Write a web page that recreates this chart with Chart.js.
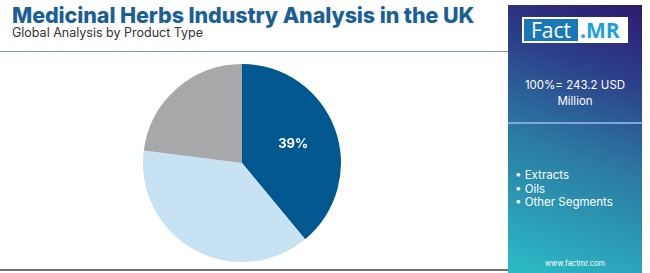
<!DOCTYPE html>
<html>
<head>
<meta charset="utf-8">
<script src="https://cdn.jsdelivr.net/npm/chart.js@4.4.1/dist/chart.umd.min.js"></script>
<style>
  html, body { margin: 0; padding: 0; background: #fff; }
  #wrap { position: relative; width: 650px; height: 273px; overflow: hidden; font-family: Inter, "Noto Sans", sans-serif; }
  #title { position: absolute; left: 12px; top: 2px; font-size: 21.5px; font-weight: 800; color: #1b5f97; letter-spacing: -0.1px; white-space: nowrap; }
  #subtitle { position: absolute; left: 12px; top: 25px; font-size: 12.5px; color: #333; white-space: nowrap; }
  #topline { position: absolute; left: 0; top: 51px; width: 508px; height: 1px; background: #7e98b3; }
  #botline { position: absolute; left: 0; top: 269px; width: 508px; height: 2px; background: #6d6f73; }
  #pie { position: absolute; left: 143px; top: 64px; }
  #panel { position: absolute; left: 508px; top: 5px; width: 134px; height: 268px;
    background: linear-gradient(20deg, #2bbcc6 0%, #2b7aa3 45%, #2c3f8a 75%, #2d1a6e 100%); }
  #logo { position: absolute; left: 14px; top: 12px; width: 106px; height: 26px; background: #fff; }
  #logo .f { position: absolute; left: 2px; top: 2px; width: 54px; height: 22px; background: #1a78b8; color: #fff; font-size: 21px; line-height: 22px; text-align: center; font-family: "Open Sans", sans-serif; }
  #logo .m { position: absolute; left: 58px; top: 2px; color: #1aa0da; font-size: 21px; font-weight: 700; line-height: 22px; font-family: "Open Sans", sans-serif; }
  #total { position: absolute; left: 0; top: 72px; width: 134px; text-align: center; color: #fff; font-size: 11.5px; line-height: 16px; }
  #divider { position: absolute; left: 0; top: 117px; width: 134px; height: 2px; background: #7fa8d6; }
  #legend { position: absolute; left: 7px; top: 164px; color: #fff; font-size: 11.5px; line-height: 13.5px; }
  #site { position: absolute; left: 0; top: 254px; width: 134px; text-align: center; color: #fff; font-size: 7.5px; }
</style>
</head>
<body>
<div id="wrap">
  <div id="title">Medicinal Herbs Industry Analysis in the UK</div>
  <div id="subtitle">Global Analysis by Product Type</div>
  <div id="topline"></div>
  <div id="botline"></div>
  <canvas id="pie" width="198" height="198"></canvas>
  <div id="panel">
    <div id="logo"><div class="f">Fact</div><div class="m">.MR</div></div>
    <div id="total">100%= 243.2 USD<br>Million</div>
    <div id="divider"></div>
    <div id="legend"></div>
    <div id="site">www.factmr.com</div>
  </div>
</div>
<script>
const segments = ['Extracts', 'Oils', 'Other Segments'];
const shares = [39, 38, 23];
const segmentColors = ['#00588f', '#c6e2f3', '#a8a7aa'];
const labelShown = [true, false, false];

document.getElementById('legend').innerHTML = segments.map(s => '\u2022 ' + s).join('<br>');

// draw the percentage label inside the slices that carry one
const sliceLabels = {
  id: 'sliceLabels',
  afterDatasetsDraw(chart) {
    const ctx = chart.ctx;
    const meta = chart.getDatasetMeta(0);
    meta.data.forEach((arc, i) => {
      if (!labelShown[i]) return;
      const mid = (arc.startAngle + arc.endAngle) / 2;
      const r = arc.outerRadius * 0.55;
      ctx.save();
      ctx.fillStyle = '#fff';
      ctx.font = 'bold 13px Inter, "Noto Sans", sans-serif';
      ctx.textAlign = 'center';
      ctx.textBaseline = 'middle';
      ctx.fillText(shares[i] + '%', arc.x + Math.cos(mid) * r, arc.y + Math.sin(mid) * r);
      ctx.restore();
    });
  }
};

new Chart(document.getElementById('pie').getContext('2d'), {
  type: 'pie',
  data: {
    labels: segments,
    datasets: [{
      data: shares,
      backgroundColor: segmentColors,
      borderWidth: 0
    }]
  },
  options: {
    responsive: false,
    animation: false,
    layout: { padding: 0 },
    plugins: {
      legend: { display: false },
      tooltip: { enabled: false }
    }
  },
  plugins: [sliceLabels]
});
</script>
</body>
</html>
